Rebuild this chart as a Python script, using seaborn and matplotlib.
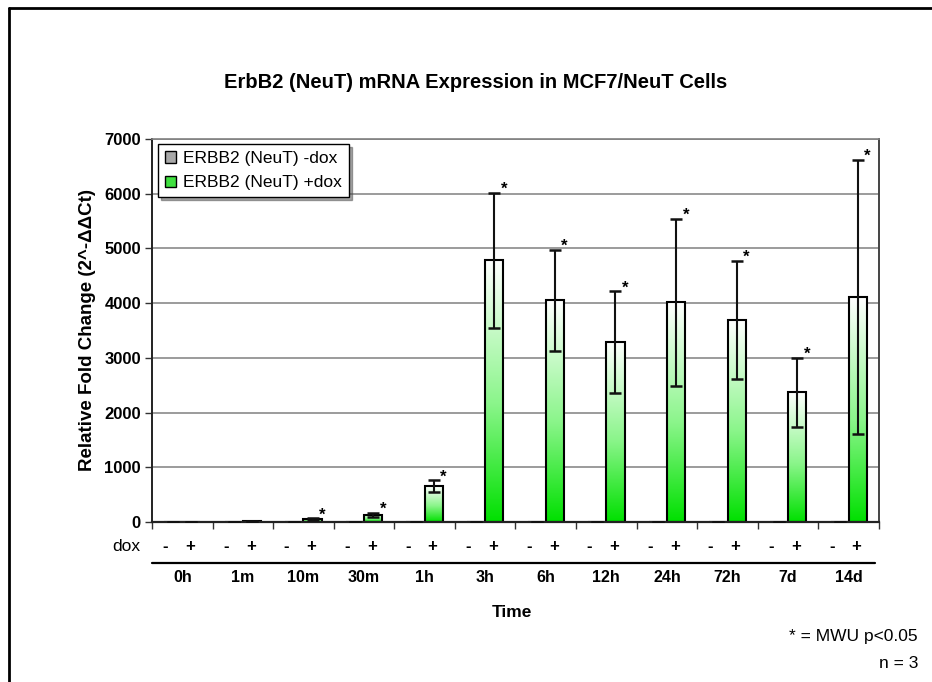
import numpy as np
import pandas as pd
import matplotlib
matplotlib.use("Agg")
import matplotlib.pyplot as plt
import seaborn as sns
from matplotlib.colors import LinearSegmentedColormap
from matplotlib.patches import Patch
from matplotlib.lines import Line2D
import matplotlib.transforms as mtransforms

# ---------------- data ----------------
times = ["0h", "1m", "10m", "30m", "1h", "3h", "6h", "12h", "24h", "72h", "7d", "14d"]
minus_dox = [1, 1, 1, 1, 1, 1, 1, 1, 1, 1, 1, 1]
minus_err = [0.3, 0.3, 0.3, 0.3, 0.3, 0.3, 0.3, 0.3, 0.3, 0.3, 0.3, 0.3]
plus_dox = [2, 10, 55, 128, 655, 4780, 4050, 3290, 4015, 3690, 2370, 4110]
plus_err = [1, 4, 15, 45, 105, 1240, 925, 930, 1530, 1085, 630, 2505]
significant = [False, False, True, True, True, True, True, True, True, True, True, True]
series = ["ERBB2 (NeuT) -dox", "ERBB2 (NeuT) +dox"]
dox_marks = ["-", "+"]
y_ticks = [0, 1000, 2000, 3000, 4000, 5000, 6000, 7000]

df = pd.DataFrame({
    "Time": times * 2,
    "Series": [series[0]] * len(times) + [series[1]] * len(times),
    "Value": minus_dox + plus_dox,
    "Err": minus_err + plus_err,
})

# ---------------- style ----------------
sns.set_style("white")
plt.rcParams["font.family"] = ["Liberation Sans", "DejaVu Sans"]
plt.rcParams["text.color"] = "black"
plt.rcParams["axes.labelcolor"] = "black"
plt.rcParams["xtick.color"] = "black"
plt.rcParams["ytick.color"] = "black"

fig = plt.figure(figsize=(9.32, 6.82), dpi=100)
ax = fig.add_axes([0.1631, 0.2346, 0.7800, 0.5616])

sns.barplot(data=df, x="Time", y="Value", hue="Series", order=times,
            hue_order=series, errorbar=None, width=0.6, gap=0,
            palette=["#a0a0a0", "#30e030"], edgecolor="black", linewidth=1.5,
            legend=False, ax=ax, zorder=2)

green_cmap = LinearSegmentedColormap.from_list(
    "g", [(0.0, "#00e000"), (0.45, "#8af58a"), (1.0, "#ffffff")])
gray_cmap = LinearSegmentedColormap.from_list("k", ["#606060", "#ffffff"])
grad = np.linspace(0, 1, 256).reshape(-1, 1)

errs_all = [minus_err, plus_err]
for ci, (cont, cmap) in enumerate(zip(ax.containers[:2], [gray_cmap, green_cmap])):
    for bi, bar in enumerate(cont):
        x0 = bar.get_x()
        w = bar.get_width()
        h = bar.get_height()
        bar.set_facecolor("none")
        im = ax.imshow(grad, extent=[x0, x0 + w, 0, h], origin="lower",
                       aspect="auto", cmap=cmap, zorder=1.9,
                       interpolation="bilinear")
        im.set_clip_path(bar)
        xc = x0 + w / 2
        e = errs_all[ci][bi]
        ax.errorbar([xc], [h], yerr=[e], fmt="none", ecolor="#111111",
                    elinewidth=1.5, capsize=4.5, capthick=1.8, zorder=3)
        if ci == 1 and significant[bi]:
            ax.annotate("*", xy=(xc, h + e), xytext=(7, -3),
                        textcoords="offset points", ha="center", va="bottom",
                        fontsize=12, fontweight="bold", zorder=4)

ax.set_xlim(-0.5, len(times) - 0.5)
ax.set_ylim(0, 7000)

# grid and spines
ax.set_yticks(y_ticks)
ax.set_yticklabels([str(v) for v in y_ticks], fontsize=12, fontweight="bold")
ax.yaxis.grid(True, color="#808080", linewidth=1.1, zorder=0)
ax.set_axisbelow(True)
ax.set_xticks(np.arange(-0.5, len(times), 1.0))
ax.set_xticklabels([])
ax.tick_params(axis="x", direction="out", length=5, width=1.0, color="#333333",
               bottom=True)
ax.tick_params(axis="y", direction="out", length=5, width=1.0, color="#333333",
               left=True, pad=3)
ax.spines["left"].set_color("#222222")
ax.spines["left"].set_linewidth(1.4)
ax.spines["bottom"].set_color("#222222")
ax.spines["bottom"].set_linewidth(1.6)
ax.spines["top"].set_color("#808080")
ax.spines["top"].set_linewidth(1.2)
ax.spines["right"].set_color("#444444")
ax.spines["right"].set_linewidth(1.4)
ax.set_xlabel("")
ax.set_ylabel("Relative Fold Change (2^-ΔΔCt)", fontsize=13.5,
              fontweight="bold", labelpad=6)

# dox row, line, time labels
trans = mtransforms.blended_transform_factory(ax.transData, ax.transAxes)
for i, t in enumerate(times):
    ax.text(i - 0.28, -0.065, dox_marks[0], transform=trans, ha="center",
            va="center", fontsize=12, fontweight="bold")
    ax.text(i + 0.13, -0.065, dox_marks[1], transform=trans, ha="center",
            va="center", fontsize=12, fontweight="bold")
    ax.text(i, -0.145, t, transform=trans, ha="center", va="center",
            fontsize=11.5, fontweight="bold")
ax.text(-0.016, -0.065, "dox", transform=ax.transAxes, ha="right",
        va="center", fontsize=12.5)
ax.add_line(Line2D([0.0, 0.995], [-0.107, -0.107], transform=ax.transAxes,
                   color="black", linewidth=1.6, clip_on=False))
ax.text(0.495, -0.235, "Time", transform=ax.transAxes, ha="center",
        va="center", fontsize=12.5, fontweight="bold")

# legend
handles = [Patch(facecolor="#a8a8a8", edgecolor="black", linewidth=1.0),
           Patch(facecolor="#40e040", edgecolor="black", linewidth=1.0)]
leg = ax.legend(handles, series, loc="upper left",
                bbox_to_anchor=(0.008, 0.987), borderaxespad=0,
                fontsize=12.5, frameon=True, fancybox=False, shadow=True,
                edgecolor="black", handlelength=0.65, handleheight=0.65,
                handletextpad=0.4, borderpad=0.4, labelspacing=0.55)
leg.get_frame().set_linewidth(1.0)

# title and notes
fig.text(0.51, 1 - 82 / 682, "ErbB2 (NeuT) mRNA Expression in MCF7/NeuT Cells",
         ha="center", va="center", fontsize=14.5, fontweight="bold")
fig.text(0.985, 1 - 637 / 682, "* = MWU p<0.05", ha="right", va="center",
         fontsize=12.5)
fig.text(0.985, 1 - 663 / 682, "n = 3", ha="right", va="center", fontsize=12.5)

# figure border (top and left)
fig.add_artist(Line2D([9 / 932, 1.0], [1 - 8 / 682, 1 - 8 / 682],
                      transform=fig.transFigure, color="black", linewidth=2))
fig.add_artist(Line2D([9 / 932, 9 / 932], [0, 1 - 8 / 682],
                      transform=fig.transFigure, color="black", linewidth=2))

fig.savefig("out.png", dpi=100)
